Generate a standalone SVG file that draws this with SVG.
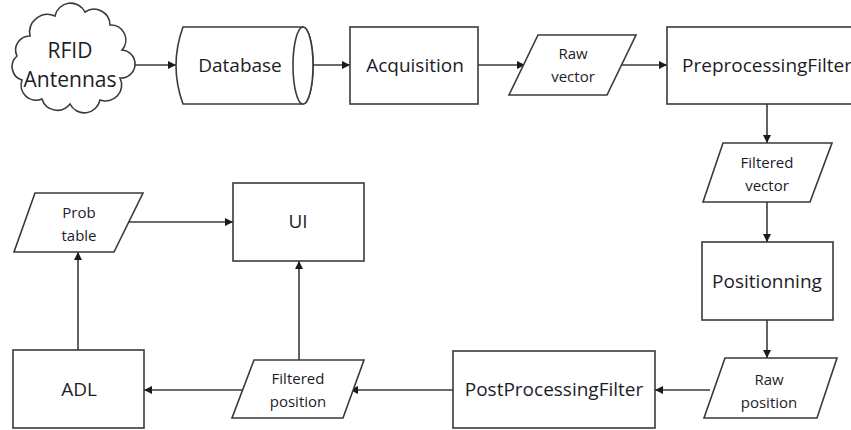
<svg xmlns="http://www.w3.org/2000/svg" width="851" height="430" viewBox="0 0 851 430">
  <defs>
    <marker id="arrow" viewBox="0 0 10 10" refX="10" refY="5" markerWidth="8" markerHeight="8" markerUnits="userSpaceOnUse" orient="auto">
      <path d="M0,0 L10,5 L0,10 Z" fill="#1a1a1a"/>
    </marker>
    <style>
      .shape { fill: #ffffff; stroke: #3a3a3a; stroke-width: 1.6; }
      .edge { fill: none; stroke: #3a3a3a; stroke-width: 1.6; marker-end: url(#arrow); }
      .lbl { font-family: "Open Sans", "Noto Sans", sans-serif; fill: #1c1c28; text-anchor: middle; }
      .big { font-size: 19px; }
      .small { font-size: 15px; }
      .huge { font-size: 21px; }
    </style>
  </defs>
  <rect width="851" height="430" fill="#ffffff"/>

  <!-- connectors -->
  <g id="connectors">
    <line class="edge" x1="120" y1="65" x2="176" y2="65"/>
    <line class="edge" x1="313" y1="65" x2="350" y2="65"/>
    <line class="edge" x1="478" y1="65" x2="525" y2="65"/>
    <line class="edge" x1="622" y1="65" x2="667" y2="65"/>
    <line class="edge" x1="767" y1="104" x2="767" y2="143"/>
    <line class="edge" x1="767" y1="202" x2="767" y2="242"/>
    <line class="edge" x1="767" y1="320" x2="767" y2="358"/>
    <line class="edge" x1="710" y1="390" x2="655" y2="390"/>
    <line class="edge" x1="453" y1="390" x2="350" y2="390"/>
    <line class="edge" x1="244" y1="390" x2="144" y2="390"/>
    <line class="edge" x1="78" y1="350" x2="78" y2="252"/>
    <line class="edge" x1="128" y1="222" x2="233" y2="222"/>
    <line class="edge" x1="299" y1="360" x2="299" y2="261"/>
  </g>

  <g id="rfid-antennas">
    <path class="shape" d="M30,36 A18,18 0 0 1 55,16 A16,16 0 0 1 85,12 A16,16 0 0 1 110,25 A15,15 0 0 1 122,50 A14,14 0 0 1 120,78 A16,16 0 0 1 100,100 A16,16 0 0 1 70,104 A16,16 0 0 1 42,99 A15,15 0 0 1 22,80 A14,14 0 0 1 17,56 A14,14 0 0 1 30,36 Z"/>
    <text class="lbl huge" x="70" y="58">RFID</text>
    <text class="lbl huge" x="70" y="87">Antennas</text>
  </g>

  <g id="database">
    <path class="shape" d="M183,27 L303,27 A10,38.5 0 0 1 303,104 L183,104 Q169,65.5 183,27 Z"/>
    <ellipse class="shape" cx="303" cy="65.5" rx="10" ry="38.5" fill="none"/>
    <text class="lbl big" x="240" y="72">Database</text>
  </g>

  <g id="acquisition">
    <rect class="shape" x="350" y="27" width="128" height="77"/>
    <text class="lbl big" x="415" y="72">Acquisition</text>
  </g>

  <g id="raw-vector">
    <polygon class="shape" points="538,35 636,35 607,95 509,95"/>
    <text class="lbl small" x="573" y="59">Raw</text>
    <text class="lbl small" x="573" y="82">vector</text>
  </g>

  <g id="preprocessing-filter">
    <rect class="shape" x="667" y="27" width="196" height="77"/>
    <text class="lbl big" x="767" y="72">PreprocessingFilter</text>
  </g>

  <g id="filtered-vector">
    <polygon class="shape" points="723,143 832,143 810,202 703,202"/>
    <text class="lbl small" x="767" y="168">Filtered</text>
    <text class="lbl small" x="767" y="191">vector</text>
  </g>

  <g id="positionning">
    <rect class="shape" x="702" y="242" width="131" height="78"/>
    <text class="lbl big" x="767" y="288">Positionning</text>
  </g>

  <g id="raw-position">
    <polygon class="shape" points="725,358 837,358 817,418 704,418"/>
    <text class="lbl small" x="769" y="385">Raw</text>
    <text class="lbl small" x="769" y="408">position</text>
  </g>

  <g id="postprocessing-filter">
    <rect class="shape" x="453" y="351" width="202" height="77"/>
    <text class="lbl big" x="554" y="396">PostProcessingFilter</text>
  </g>

  <g id="filtered-position">
    <polygon class="shape" points="254,360 364,360 343,418 232,418"/>
    <text class="lbl small" x="298" y="384">Filtered</text>
    <text class="lbl small" x="298" y="407">position</text>
  </g>

  <g id="adl">
    <rect class="shape" x="13" y="350" width="131" height="78"/>
    <text class="lbl big" x="79" y="396">ADL</text>
  </g>

  <g id="prob-table">
    <polygon class="shape" points="35,193 143,193 114,252 14,252"/>
    <text class="lbl small" x="79" y="218">Prob</text>
    <text class="lbl small" x="79" y="241">table</text>
  </g>

  <g id="ui">
    <rect class="shape" x="233" y="183" width="131" height="78"/>
    <text class="lbl big" x="298" y="228">UI</text>
  </g>
</svg>
